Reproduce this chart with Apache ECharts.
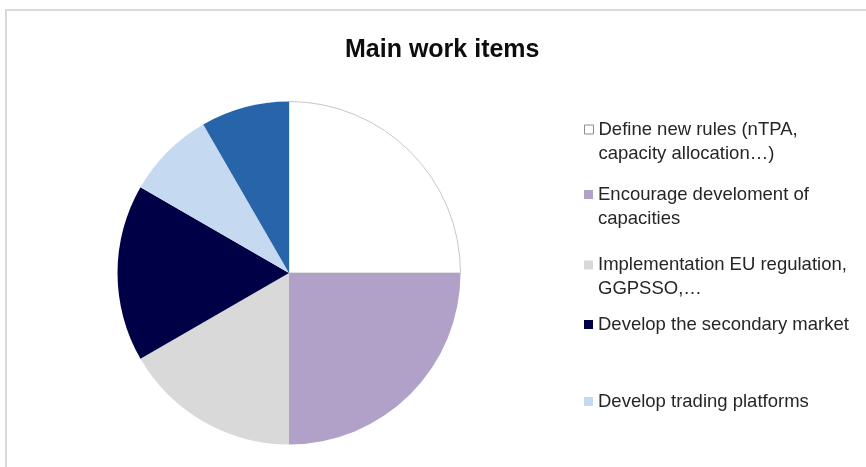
<!DOCTYPE html>
<html>
<head>
<meta charset="utf-8">
<script src="https://cdn.jsdelivr.net/npm/echarts@6/dist/echarts.min.js"></script>
<style>html,body{margin:0;padding:0;background:#fff}#c{width:866px;height:467px}</style>
</head>
<body>
<div id="c"></div>
<script>
var titleText = 'Main work items';
var categories = [
  'Define new rules (nTPA, capacity allocation…)',
  'Encourage develoment of capacities',
  'Implementation EU regulation, GGPSSO,…',
  'Develop the secondary market',
  'Develop trading platforms',
  'Other'
];
var legendLines = [
  ['Define new rules (nTPA,', 'capacity allocation…)'],
  ['Encourage develoment of', 'capacities'],
  ['Implementation EU regulation,', 'GGPSSO,…'],
  ['Develop the secondary market'],
  ['Develop trading platforms']
];
var values = [3, 3, 2, 2, 1, 1];
var colors = ['#ffffff', '#b1a1c8', '#d9d9d9', '#000046', '#c5d9f1', '#2864a9'];

var chart = echarts.init(document.getElementById('c'), null, {renderer: 'canvas'});
var legendTops = [93.5, 158.5, 229, 312.5, 389.5];
var legends = legendLines.map(function (lines, i) {
  // a blank line above multi-line labels keeps the icon level with the first line
  var txt = lines.length > 1 ? '\n' + lines.join('\n') : lines[0];
  return {
    data: [categories[i]],
    left: 584,
    top: legendTops[i],
    orient: 'vertical',
    itemWidth: 9,
    itemHeight: 9,
    itemGap: 0,
    padding: 0,
    selectedMode: false,
    icon: 'rect',
    itemStyle: i === 0 ? {borderColor: '#8c8c8c', borderWidth: 1} : {},
    formatter: function () { return txt; },
    textStyle: {
      fontFamily: 'Liberation Sans, Arial, sans-serif',
      fontSize: 18.5,
      color: '#262626',
      lineHeight: 24
    }
  };
});

chart.setOption({
  animation: false,
  backgroundColor: '#ffffff',
  title: {
    text: titleText,
    left: 345,
    top: 38,
    padding: 0,
    textStyle: {fontFamily: 'Liberation Sans, Arial, sans-serif', fontSize: 25, fontWeight: 'bold', color: '#0d0d0d'}
  },
  graphic: [{
    type: 'rect',
    shape: {x: 6, y: 10, width: 900, height: 500},
    style: {fill: 'none', stroke: '#d9d9d9', lineWidth: 2},
    silent: true,
    z: -10
  }],
  legend: legends,
  series: [{
    type: 'pie',
    center: [289, 273],
    radius: 171.5,
    startAngle: 90,
    clockwise: true,
    label: {show: false},
    labelLine: {show: false},
    emphasis: {disabled: true},
    data: categories.map(function (c, i) {
      var d = {name: c, value: values[i], itemStyle: {color: colors[i]}};
      if (i === 0) { d.itemStyle.borderColor = '#c8c8c8'; d.itemStyle.borderWidth = 1; }
      return d;
    })
  }]
});
</script>
</body>
</html>
